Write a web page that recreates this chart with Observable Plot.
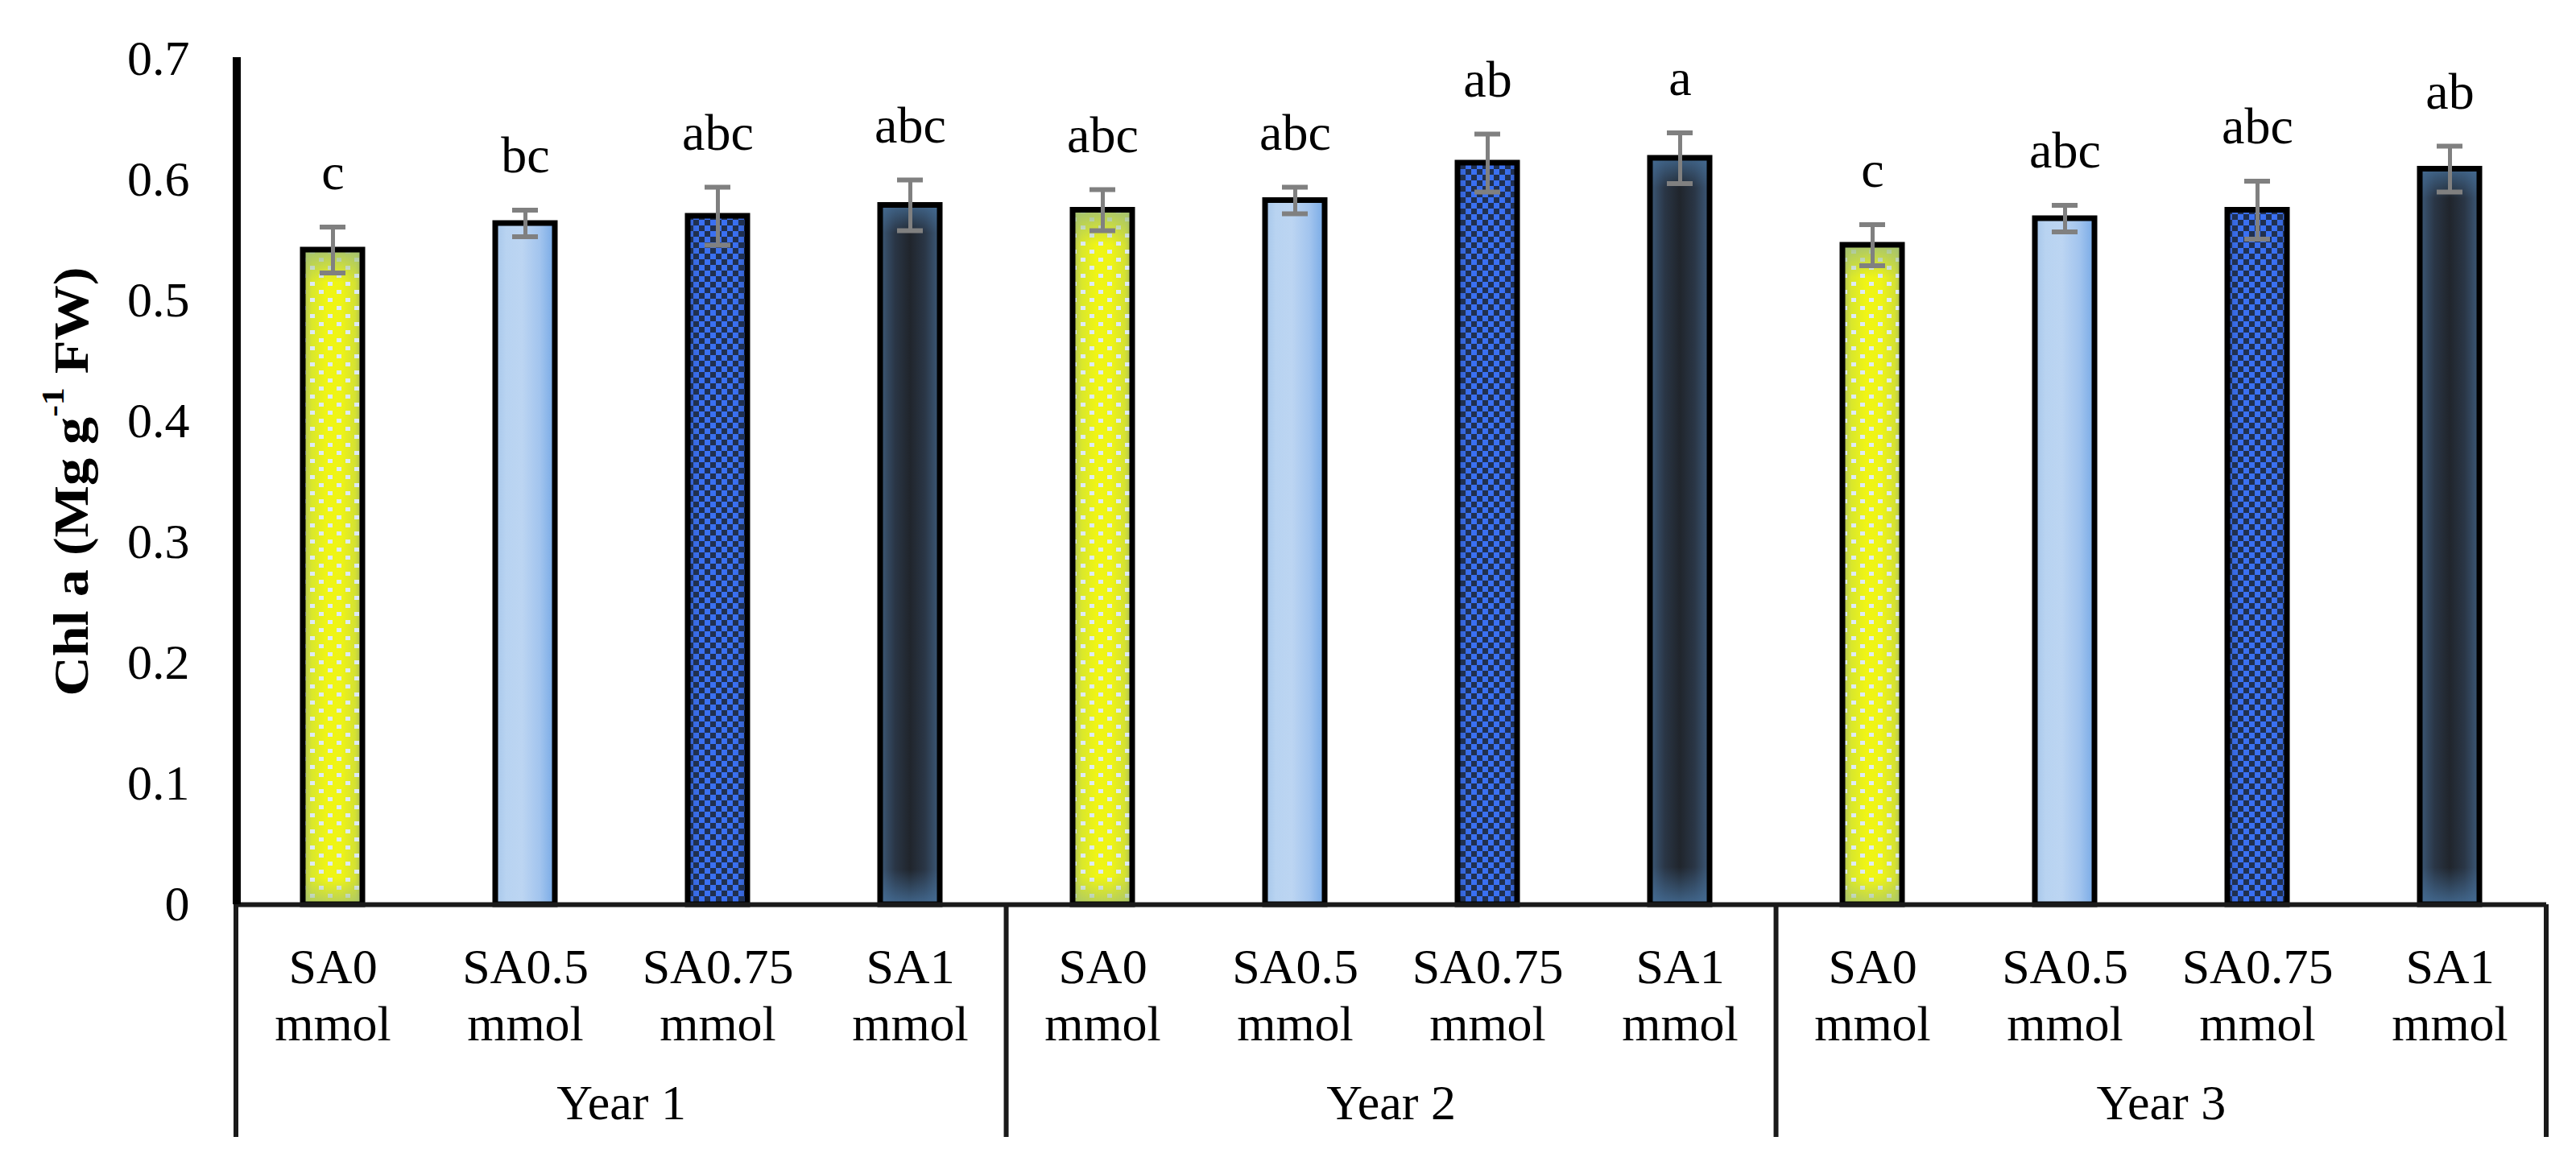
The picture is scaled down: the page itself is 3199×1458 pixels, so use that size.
<!DOCTYPE html>
<html><head><meta charset="utf-8">
<script src="https://cdn.jsdelivr.net/npm/d3@7"></script>
<script src="https://cdn.jsdelivr.net/npm/@observablehq/plot@0.6"></script>
<style>
body{margin:0;background:#fff;}
#chart{width:3199px;height:1458px;}
</style>
</head><body><div id="chart"></div>
<script>
// ---------- data ----------
const years = ["Year 1", "Year 2", "Year 3"];
const treatments = ["SA0", "SA0.5", "SA0.75", "SA1"];
const unitLabel = "mmol";
const year1Values = [0.542, 0.564, 0.570, 0.579];
const year2Values = [0.575, 0.583, 0.614, 0.618];
const year3Values = [0.546, 0.568, 0.575, 0.609];
const year1Errors = [0.019, 0.011, 0.024, 0.021];
const year2Errors = [0.017, 0.011, 0.024, 0.021];
const year3Errors = [0.017, 0.011, 0.024, 0.019];
const year1Letters = ["c", "bc", "abc", "abc"];
const year2Letters = ["abc", "abc", "ab", "a"];
const year3Letters = ["c", "abc", "abc", "ab"];
const yTicks = [0, 0.1, 0.2, 0.3, 0.4, 0.5, 0.6, 0.7];
const yTitleMain = "Chl a (Mg g";
const yTitleSup = "-1";
const yTitleEnd = " FW)";

const valuesByYear = [year1Values, year2Values, year3Values];
const errorsByYear = [year1Errors, year2Errors, year3Errors];
const lettersByYear = [year1Letters, year2Letters, year3Letters];
const data = years.flatMap((yr, g) => treatments.map((t, i) => ({
  year: yr, treatment: t, key: yr + "|" + t,
  value: valuesByYear[g][i], err: errorsByYear[g][i], letter: lettersByYear[g][i]
})));

// ---------- style ----------
const W = 3199, H = 1458;
const FONT = "'Liberation Serif','Times New Roman',serif";
const fillLayers = {
  "SA0": ["url(#gYellow)", "url(#pDots)", "url(#gYellowV)"],
  "SA0.5": ["url(#gBlue)"],
  "SA0.75": ["url(#gCheck)", "url(#pCheck)"],
  "SA1": ["url(#gNavy)", "url(#gNavyV)"]
};

const marks = [];
treatments.forEach(t => {
  const sub = data.filter(d => d.treatment === t);
  fillLayers[t].forEach(f => marks.push(Plot.barY(sub, {x: "key", y: "value", fill: f})));
  marks.push(Plot.barY(sub, {x: "key", y: "value", fill: "none", stroke: "#000", strokeWidth: 7}));
});
marks.push(Plot.ruleY([0], {stroke: "#1a1a1a", strokeWidth: 6}));
marks.push(Plot.ruleX(data, {x: "key", y1: d => d.value - d.err, y2: d => d.value + d.err, stroke: "#808080", strokeWidth: 5}));
marks.push(Plot.tickY(data, {x: "key", y: d => d.value + d.err, stroke: "#808080", strokeWidth: 6, insetLeft: 21, insetRight: 21}));
marks.push(Plot.tickY(data, {x: "key", y: d => d.value - d.err, stroke: "#808080", strokeWidth: 6, insetLeft: 21, insetRight: 21}));
marks.push(Plot.text(data, {x: "key", y: d => d.value + d.err, text: "letter", lineAnchor: "bottom", dy: -47, fontSize: 64}));
marks.push(Plot.text(data, {x: "key", frameAnchor: "bottom", text: d => d.treatment + "\n" + unitLabel, lineAnchor: "top", dy: 46, lineHeight: 1.16, fontSize: 62}));

const plot = Plot.plot({
  width: W, height: H,
  marginLeft: 294, marginRight: 37, marginTop: 73, marginBottom: 335,
  x: {domain: data.map(d => d.key), paddingInner: 0.69, paddingOuter: 0.345, axis: null},
  y: {domain: [0, 0.7], ticks: yTicks, tickFormat: d => String(d), tickSize: 0, tickPadding: 59, label: null},
  style: {fontFamily: FONT, fontSize: "62px", color: "#000", background: "#fff"},
  marks
});
document.getElementById("chart").appendChild(plot);

const svg = d3.select(plot);
svg.insert("defs", ":first-child").html(`
  <linearGradient id="gYellow" x1="0" x2="1" y1="0" y2="0">
    <stop offset="0" stop-color="#aebf62"/>
    <stop offset="0.15" stop-color="#d9e72c"/>
    <stop offset="0.4" stop-color="#f0f514"/>
    <stop offset="0.65" stop-color="#eef416"/>
    <stop offset="0.88" stop-color="#d4e132"/>
    <stop offset="1" stop-color="#a9bb60"/>
  </linearGradient>
  <linearGradient id="gYellowV" x1="0" x2="0" y1="0" y2="1">
    <stop offset="0" stop-color="#9fbf78" stop-opacity="0.9"/>
    <stop offset="0.05" stop-color="#9fbf78" stop-opacity="0"/>
    <stop offset="0.96" stop-color="#9fbf78" stop-opacity="0"/>
    <stop offset="1" stop-color="#9fbf78" stop-opacity="0.7"/>
  </linearGradient>
  <pattern id="pDots" patternUnits="userSpaceOnUse" width="22" height="20">
    <rect x="0" y="0" width="6" height="5" fill="#dde9f5"/>
    <rect x="11" y="10" width="6" height="5" fill="#dde9f5"/>
  </pattern>
  <linearGradient id="gBlue" x1="0" x2="1" y1="0" y2="0">
    <stop offset="0" stop-color="#a6c6ea"/>
    <stop offset="0.18" stop-color="#b8d3f1"/>
    <stop offset="0.45" stop-color="#bcd5f2"/>
    <stop offset="0.75" stop-color="#a2c4ee"/>
    <stop offset="1" stop-color="#76a9e6"/>
  </linearGradient>
  <linearGradient id="gCheck" x1="0" x2="1" y1="0" y2="0">
    <stop offset="0" stop-color="#3560c8"/>
    <stop offset="0.2" stop-color="#3a70f2"/>
    <stop offset="0.8" stop-color="#3a70f2"/>
    <stop offset="1" stop-color="#3560c8"/>
  </linearGradient>
  <pattern id="pCheck" patternUnits="userSpaceOnUse" width="14" height="14">
    <rect x="0" y="0" width="7" height="7" fill="#20304f"/>
    <rect x="7" y="7" width="7" height="7" fill="#20304f"/>
  </pattern>
  <linearGradient id="gNavy" x1="0" x2="1" y1="0" y2="0">
    <stop offset="0" stop-color="#3d5b7b"/>
    <stop offset="0.25" stop-color="#2a3646"/>
    <stop offset="0.5" stop-color="#20252c"/>
    <stop offset="0.75" stop-color="#2a3646"/>
    <stop offset="1" stop-color="#3d5b7b"/>
  </linearGradient>
  <linearGradient id="gNavyV" x1="0" x2="0" y1="0" y2="1">
    <stop offset="0" stop-color="#46709a" stop-opacity="0.8"/>
    <stop offset="0.04" stop-color="#46709a" stop-opacity="0"/>
    <stop offset="0.95" stop-color="#46709a" stop-opacity="0"/>
    <stop offset="1" stop-color="#46709a" stop-opacity="0.85"/>
  </linearGradient>
`);

// ---------- category table below the axis, drawn from Plot's scales ----------
const xs = plot.scale("x"), ys = plot.scale("y");
const n = xs.domain.length;
const [r0, r1] = xs.range;
const step = (r1 - r0) / (n - xs.paddingInner + 2 * xs.paddingOuter);
const bw = step * (1 - xs.paddingInner);
const y0 = ys.apply(0), yTop = ys.apply(yTicks[yTicks.length - 1]);
const tableBottom = y0 + 289;
const bounds = years.map(yr => xs.apply(yr + "|" + treatments[0]) - (step - bw) / 2);
bounds.push(r1);

const g = svg.append("g");
// y axis line (thick above the category axis, thinner in the table)
g.append("line").attr("x1", r0).attr("x2", r0).attr("y1", yTop - 2).attr("y2", y0)
  .attr("stroke", "#000").attr("stroke-width", 10);
g.append("line").attr("x1", r0 - 1).attr("x2", r0 - 1).attr("y1", y0).attr("y2", tableBottom)
  .attr("stroke", "#1a1a1a").attr("stroke-width", 6);
// separators
bounds.slice(1).forEach(bx => g.append("line").attr("x1", bx).attr("x2", bx)
  .attr("y1", y0).attr("y2", tableBottom).attr("stroke", "#1a1a1a").attr("stroke-width", 6));
// year labels
years.forEach((yr, i) => g.append("text").attr("x", (bounds[i] + bounds[i + 1]) / 2).attr("y", y0 + 267)
  .attr("text-anchor", "middle").attr("font-family", FONT).attr("font-size", 62).attr("fill", "#000").text(yr));
// y title
const t = g.append("text").attr("transform", `translate(88,${(y0 + yTop) / 2}) rotate(-90) scale(1.1,1)`)
  .attr("text-anchor", "middle").attr("dominant-baseline", "central")
  .attr("font-family", FONT).attr("font-size", 62).attr("font-weight", "bold").attr("fill", "#000");
t.append("tspan").text(yTitleMain);
t.append("tspan").attr("baseline-shift", "super").attr("font-size", 40).text(yTitleSup);
t.append("tspan").text(yTitleEnd);
</script>
</body></html>
